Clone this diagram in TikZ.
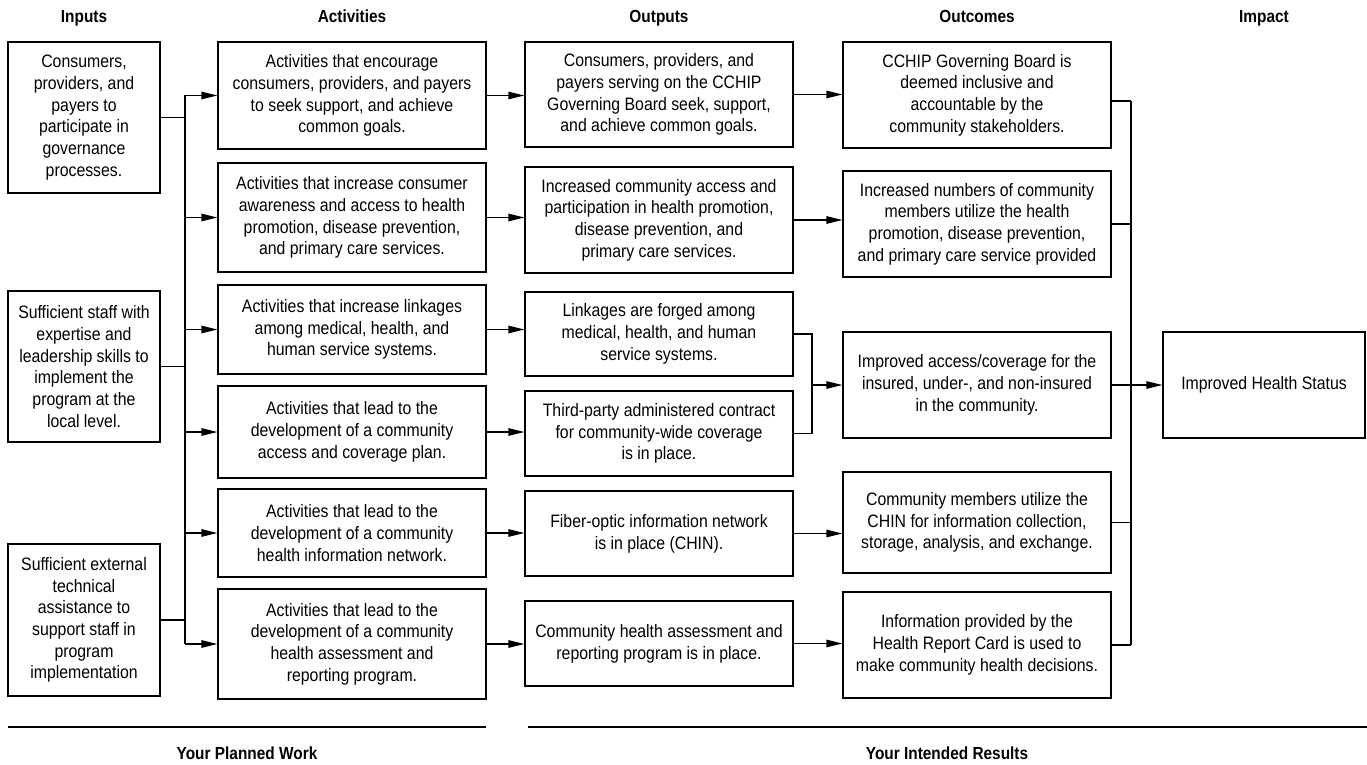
\documentclass[tikz,border=0pt]{standalone}
\usepackage{fontspec}
\setmainfont{Liberation Sans}[FakeStretch=0.88]
\usetikzlibrary{arrows.meta}
\begin{document}
\begin{tikzpicture}[x=1pt,y=-1pt,
  box/.style={draw, line width=1.2pt, align=center, inner sep=0pt, font=\fontsize{18}{21.7}\selectfont},
  conn/.style={line width=1.2pt},
  arr/.style={conn, -{Triangle[length=16pt,width=7.5pt]}},
  rulel/.style={line width=1.8pt},
  head/.style={font=\fontsize{17.5}{20}\selectfont\bfseries, anchor=base}]
\useasboundingbox (0,0) rectangle (1367,765);
% headers
\node[head] (hin) at (84,23) {Inputs};
\node[head] (hac) at (352,23) {Activities};
\node[head] (hou) at (659,23) {Outputs};
\node[head] (hoc) at (977,23) {Outcomes};
\node[head] (him) at (1264,23) {Impact};
% inputs
\node[box, minimum width=152pt, minimum height=151pt] (I1) at (84,117.5) {Consumers,\\ providers, and\\ payers to\\ participate in\\ governance\\ processes.};
\node[box, minimum width=152pt, minimum height=151pt] (I2) at (84,366.5) {Sufficient staff with\\ expertise and\\ leadership skills to\\ implement the\\ program at the\\ local level.};
\node[box, minimum width=152pt, minimum height=152pt] (I3) at (84,620) {Sufficient external\\ technical\\ assistance to\\ support staff in\\ program\\ implementation};
% activities
\node[box, minimum width=268pt, minimum height=107pt] (A1) at (352,95.5) {Activities that encourage\\ consumers, providers, and payers\\ to seek support, and achieve\\ common goals.};
\node[box, minimum width=268pt, minimum height=109pt] (A2) at (352,217.5) {Activities that increase consumer\\ awareness and access to health\\ promotion, disease prevention,\\ and primary care services.};
\node[box, minimum width=268pt, minimum height=89pt] (A3) at (352,329.5) {Activities that increase linkages\\ among medical, health, and\\ human service systems.};
\node[box, minimum width=268pt, minimum height=92pt] (A4) at (352,432) {Activities that lead to the\\ development of a community\\ access and coverage plan.};
\node[box, minimum width=268pt, minimum height=88pt] (A5) at (352,533) {Activities that lead to the\\ development of a community\\ health information network.};
\node[box, minimum width=268pt, minimum height=110pt] (A6) at (352,644) {Activities that lead to the\\ development of a community\\ health assessment and\\ reporting program.};
% outputs
\node[box, minimum width=268pt, minimum height=105pt] (O1) at (659,94.5) {Consumers, providers, and\\ payers serving on the CCHIP\\ Governing Board seek, support,\\ and achieve common goals.};
\node[box, minimum width=268pt, minimum height=106pt] (O2) at (659,220) {Increased community access and\\ participation in health promotion,\\ disease prevention, and\\ primary care services.};
\node[box, minimum width=268pt, minimum height=84pt] (O3) at (659,334) {Linkages are forged among\\ medical, health, and human\\ service systems.};
\node[box, minimum width=268pt, minimum height=85pt] (O4) at (659,433.5) {Third-party administered contract\\ for community-wide coverage\\ is in place.};
\node[box, minimum width=268pt, minimum height=85pt] (O5) at (659,533.5) {Fiber-optic information network\\ is in place (CHIN).};
\node[box, minimum width=268pt, minimum height=85pt] (O6) at (659,643.5) {Community health assessment and\\ reporting program is in place.};
% outcomes
\node[box, minimum width=268pt, minimum height=106pt] (C1) at (977,95) {CCHIP Governing Board is\\ deemed inclusive and\\ accountable by the\\ community stakeholders.};
\node[box, minimum width=268pt, minimum height=106pt] (C2) at (977,224) {Increased numbers of community\\ members utilize the health\\ promotion, disease prevention,\\ and primary care service provided};
\node[box, minimum width=268pt, minimum height=106pt] (C3) at (977,385) {Improved access/coverage for the\\ insured, under-, and non-insured\\ in the community.};
\node[box, minimum width=268pt, minimum height=101pt] (C5) at (977,522.5) {Community members utilize the\\ CHIN for information collection,\\ storage, analysis, and exchange.};
\node[box, minimum width=268pt, minimum height=106pt] (C6) at (977,645) {Information provided by the\\ Health Report Card is used to\\ make community health decisions.};
% impact
\node[box, minimum width=202pt, minimum height=106pt] (IM) at (1264,385) {Improved Health Status};
% left bus
\coordinate (lb) at (185,0);
\foreach \n in {I1,I2,I3} \draw[conn] (\n.east) -- (\n.east -| lb);
\draw[conn] (A1.west -| lb) -- (A6.west -| lb);
\foreach \n in {A1,A2,A3,A4,A5,A6} \draw[arr] (\n.west -| lb) -- (\n.west);
% activities to outputs
\draw[arr] (A1.east) -- (A1.east -| O1.west);
\draw[arr] (A2.east) -- (A2.east -| O2.west);
\draw[arr] (A3.east) -- (A3.east -| O3.west);
\draw[arr] (A4.east) -- (A4.east -| O4.west);
\draw[arr] (A5.east) -- (A5.east -| O5.west);
\draw[arr] (A6.east) -- (A6.east -| O6.west);
% outputs to outcomes
\draw[arr] (O1.east) -- (O1.east -| C1.west);
\draw[arr] (O2.east) -- (O2.east -| C2.west);
\draw[arr] (O5.east) -- (O5.east -| C5.west);
\draw[arr] (O6.east) -- (O6.east -| C6.west);
\coordinate (mx) at (812,0);
\draw[conn] (O3.east) -- (O3.east -| mx) -- (O4.east -| mx) -- (O4.east);
\draw[arr] (mx |- C3.west) -- (C3.west);
% right bus
\coordinate (rb) at (1131,0);
\coordinate (c1e) at ([yshift=-6pt]C1.east);
\draw[conn] (c1e) -- (c1e -| rb);
\draw[conn] (C2.east) -- (C2.east -| rb);
\draw[conn] (C5.east) -- (C5.east -| rb);
\draw[conn] (C6.east) -- (C6.east -| rb);
\draw[conn] (c1e -| rb) -- (C6.east -| rb);
\draw[arr] (C3.east) -- (IM.west);
% bottom rules
\coordinate (r1a) at (8,727);
\coordinate (r1b) at (486,727);
\coordinate (r2a) at (528,727);
\coordinate (r2b) at (1367,727);
\draw[rulel] (r1a) -- (r1b);
\draw[rulel] (r2a) -- (r2b);
\node[head] (pw) at (247,759) {Your Planned Work};
\node[head] (ir) at (947,759) {Your Intended Results};
\end{tikzpicture}
\end{document}
